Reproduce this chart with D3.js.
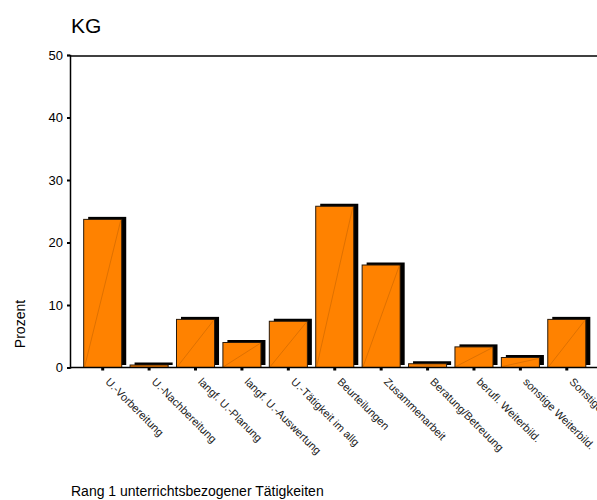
<!DOCTYPE html>
<html>
<head>
<meta charset="utf-8">
<script src="https://cdn.jsdelivr.net/npm/d3@7"></script>
<style>
  body { margin: 0; background: #fff; }
  svg { display: block; font-family: Arial, "Liberation Sans", sans-serif; }
</style>
</head>
<body>
<div id="wrapper"></div>
<script>
// 1. Data

const categories = [
  "U.-Vorbereitung",
  "U.-Nachbereitung",
  "langf. U.-Planung",
  "langf. U.-Auswertung",
  "U.-Tätigkeit im allg",
  "Beurteilungen",
  "Zusammenarbeit",
  "Beratung/Betreuung",
  "berufl. Weiterbild.",
  "sonstige Weiterbild.",
  "Sonstige",
];
const values = [23.7, 0.4, 7.7, 4.0, 7.4, 25.8, 16.4, 0.6, 3.3, 1.6, 7.7];
const yTicks = [0, 10, 20, 30, 40, 50];

// 2. Dimensions

const dimensions = {
  width: 597,
  height: 500,
  left: 70,
  top: 55,
  bottom: 367.5,
};

// 3. Canvas

const svg = d3
  .select("#wrapper")
  .append("svg")
  .attr("width", dimensions.width)
  .attr("height", dimensions.height);

// 4. Scales

const xScale = d3
  .scaleBand()
  .domain(categories)
  .range([79.5, 590])
  .paddingInner(0.18)
  .paddingOuter(0.09);

const yScale = d3
  .scaleLinear()
  .domain([0, 50])
  .range([dimensions.bottom, dimensions.top]);

// 5. Bars (shadow, face, diagonal)

const bars = svg
  .append("g")
  .selectAll("g")
  .data(categories.map((c, i) => ({ cat: c, value: values[i] })))
  .join("g");

bars
  .append("rect")
  .attr("x", (d) => xScale(d.cat) + 4.5)
  .attr("y", (d) => yScale(d.value) - 2.5)
  .attr("width", xScale.bandwidth())
  .attr("height", (d) => dimensions.bottom - yScale(d.value))
  .attr("fill", "#000");

bars
  .append("rect")
  .attr("x", (d) => xScale(d.cat))
  .attr("y", (d) => yScale(d.value))
  .attr("width", xScale.bandwidth())
  .attr("height", (d) => dimensions.bottom - yScale(d.value))
  .attr("fill", "#ff8200")
  .attr("stroke", "#2a1a0a")
  .attr("stroke-width", 1);

bars
  .append("line")
  .attr("x1", (d) => xScale(d.cat) + 1)
  .attr("y1", dimensions.bottom - 1)
  .attr("x2", (d) => xScale(d.cat) + xScale.bandwidth() - 1)
  .attr("y2", (d) => yScale(d.value) + 1)
  .attr("stroke", "#c86400")
  .attr("stroke-width", 0.6);

// 6. Peripherals

const yAxis = svg
  .append("g")
  .attr("transform", `translate(${dimensions.left},0)`)
  .call(d3.axisLeft(yScale).tickValues(yTicks).tickSize(3).tickPadding(4));

yAxis.select(".domain").attr("stroke", "#000").attr("stroke-width", 1.5);
yAxis.selectAll(".tick line").attr("stroke-width", 2);
yAxis.selectAll(".tick text").attr("font-size", 13).attr("fill", "#000");
yAxis.attr("font-family", null);

const xAxis = svg
  .append("g")
  .attr("transform", `translate(0,${dimensions.bottom})`)
  .call(d3.axisBottom(xScale).tickSize(3).tickSizeOuter(0).tickFormat(""));

xAxis.select(".domain").remove();
xAxis.selectAll(".tick line").attr("stroke-width", 3);

xAxis
  .append("line")
  .attr("x1", dimensions.left)
  .attr("x2", dimensions.width)
  .attr("stroke", "#000")
  .attr("stroke-width", 1.5);

// top frame line
svg
  .append("line")
  .attr("x1", dimensions.left)
  .attr("x2", dimensions.width)
  .attr("y1", dimensions.top + 1)
  .attr("y2", dimensions.top + 1)
  .attr("stroke", "#000")
  .attr("stroke-width", 1.5);

svg
  .append("g")
  .selectAll("text")
  .data(categories)
  .join("text")
  .attr(
    "transform",
    (d) =>
      `translate(${xScale(d) + xScale.bandwidth() / 2 + 2},${dimensions.bottom + 15}) rotate(45)`
  )
  .attr("font-size", 11)
  .attr("fill", "#222")
  .text((d) => d);

svg
  .append("text")
  .attr("x", 71)
  .attr("y", 33)
  .attr("font-size", 21)
  .text("KG");

svg
  .append("text")
  .attr("transform", `translate(25,324) rotate(-90)`)
  .attr("text-anchor", "middle")
  .attr("font-size", 14)
  .text("Prozent");

svg
  .append("text")
  .attr("x", 71)
  .attr("y", 496)
  .attr("font-size", 14)
  .text("Rang 1 unterrichtsbezogener Tätigkeiten");
</script>
</body>
</html>
